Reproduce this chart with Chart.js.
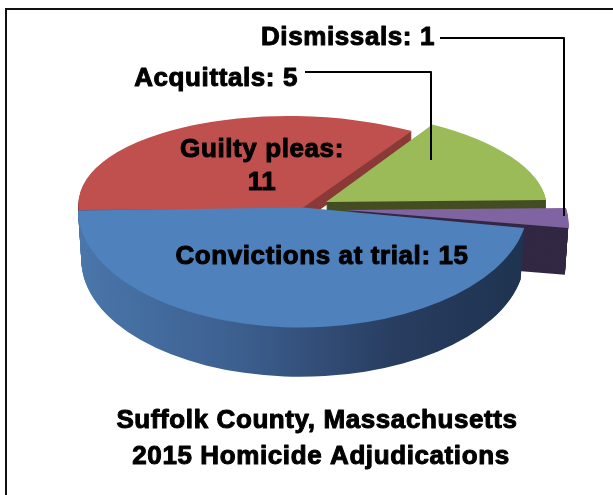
<!DOCTYPE html>
<html>
<head>
<meta charset="utf-8">
<style>
  html, body { margin: 0; background: #fff; overflow: hidden; }
  #frame { position: absolute; left: 5px; top: 8px; width: 700px; height: 600px; border: 2px solid #111; }
  #chart { position: absolute; left: 0; top: 0; }
</style>
<script src="https://cdn.jsdelivr.net/npm/chart.js@4/dist/chart.umd.min.js"></script>
</head>
<body>
<div id="frame"></div>
<canvas id="chart" width="613" height="495"></canvas>
<script>
// Dados
const categories = ["Convictions at trial", "Guilty pleas", "Acquittals", "Dismissals"];
const counts = [15, 11, 5, 1];
const titleLines = ["Suffolk County, Massachusetts", "2015 Homicide Adjudications"];

const faceColors = ["#4f81bd", "#c0504d", "#9bbb59", "#8064a2"];
const wallColors = [null, "#8a3a38", "#434e22", "#322843"];

// Como cada fatia aparece na "perspectiva": apice e vetores dos eixos
const sliceViews = [
  { apex: [303, 207.5], ex: [225, -3], ey: [3, 120],  depth: 51, shrink: 0.985 },
  { apex: [301, 209],   ex: [222, -1], ey: [15, 93],  depth: 14, shrink: 1 },
  { apex: [326, 202],   ex: [220, -2], ey: [19, 92],  depth: 40, shrink: 1 },
  { apex: [345, 210],   ex: [221, -2], ey: [33, 102], depth: 47, shrink: 0.985 }
];
const drawOrder = [1, 2, 3, 0];

function setFont(ctx) {
  ctx.font = 'bold 26px "Liberation Sans", Arial, sans-serif';
  ctx.letterSpacing = "0.6px";
  ctx.fillStyle = "#000";
  ctx.strokeStyle = "#000";
  ctx.lineWidth = 1;
  ctx.lineJoin = "round";
  ctx.textBaseline = "middle";
}

function boldText(ctx, text, x, y) {
  ctx.fillText(text, x, y);
  ctx.strokeText(text, x, y);
}

// degrade em coordenadas locais do arco, para cair na horizontal da tela
function wallGradient(ctx, arc) {
  const R = arc.outerRadius;
  const g = ctx.createLinearGradient(arc.x - R, 0, arc.x + R, 0);
  g.addColorStop(0, "#4a76aa");
  g.addColorStop(0.35, "#3c5f8f");
  g.addColorStop(0.7, "#283d60");
  g.addColorStop(1, "#1e334f");
  return g;
}

function drawSlice(ctx, arc, view, fill, dy, k) {
  const R = arc.outerRadius;
  ctx.save();
  ctx.transform(view.ex[0] * k / R, view.ex[1] * k / R, view.ey[0] * k / R, view.ey[1] * k / R,
    view.apex[0], view.apex[1] + dy);
  ctx.translate(-arc.x, -arc.y);
  const saved = arc.options;
  arc.options = { ...saved, backgroundColor: fill, borderWidth: 0 };
  arc.draw(ctx);
  arc.options = saved;
  ctx.restore();
}

const pie3d = {
  id: "pie3d",
  beforeDatasetDraw(chart) {
    const ctx = chart.ctx;
    const arcs = chart.getDatasetMeta(0).data;
    drawOrder.forEach(i => {
      const view = sliceViews[i];
      const wall = wallColors[i] || wallGradient(ctx, arcs[i]);
      for (let dy = view.depth; dy > 0; dy--) {
        const k = 1 - (1 - view.shrink) * dy / view.depth;
        drawSlice(ctx, arcs[i], view, wall, dy, k);
      }
      drawSlice(ctx, arcs[i], view, faceColors[i], 0, 1);
    });
    return false;
  },
  afterDraw(chart) {
    const ctx = chart.ctx;
    ctx.save();
    setFont(ctx);
    ctx.textAlign = "right";
    boldText(ctx, categories[3] + ": " + counts[3], 435, 38);
    boldText(ctx, categories[2] + ": " + counts[2], 298, 79);
    ctx.textAlign = "center";
    boldText(ctx, categories[1] + ":", 262, 150);
    boldText(ctx, String(counts[1]), 262, 183);
    boldText(ctx, categories[0] + ": " + counts[0], 322, 257);
    boldText(ctx, titleLines[0], 317, 421);
    boldText(ctx, titleLines[1], 321, 457);
    // linhas de chamada
    ctx.lineWidth = 2;
    ctx.beginPath();
    ctx.moveTo(440, 38); ctx.lineTo(564, 38); ctx.lineTo(564, 216);
    ctx.moveTo(305, 72); ctx.lineTo(431, 72); ctx.lineTo(431, 160);
    ctx.stroke();
    ctx.restore();
  }
};

new Chart(document.getElementById("chart"), {
  type: "pie",
  data: {
    labels: categories,
    datasets: [{
      data: counts,
      backgroundColor: faceColors,
      borderWidth: 0
    }]
  },
  options: {
    responsive: false,
    animation: false,
    rotation: 101.25,
    plugins: {
      legend: { display: false },
      tooltip: { enabled: false }
    }
  },
  plugins: [pie3d]
});
</script>
</body>
</html>
